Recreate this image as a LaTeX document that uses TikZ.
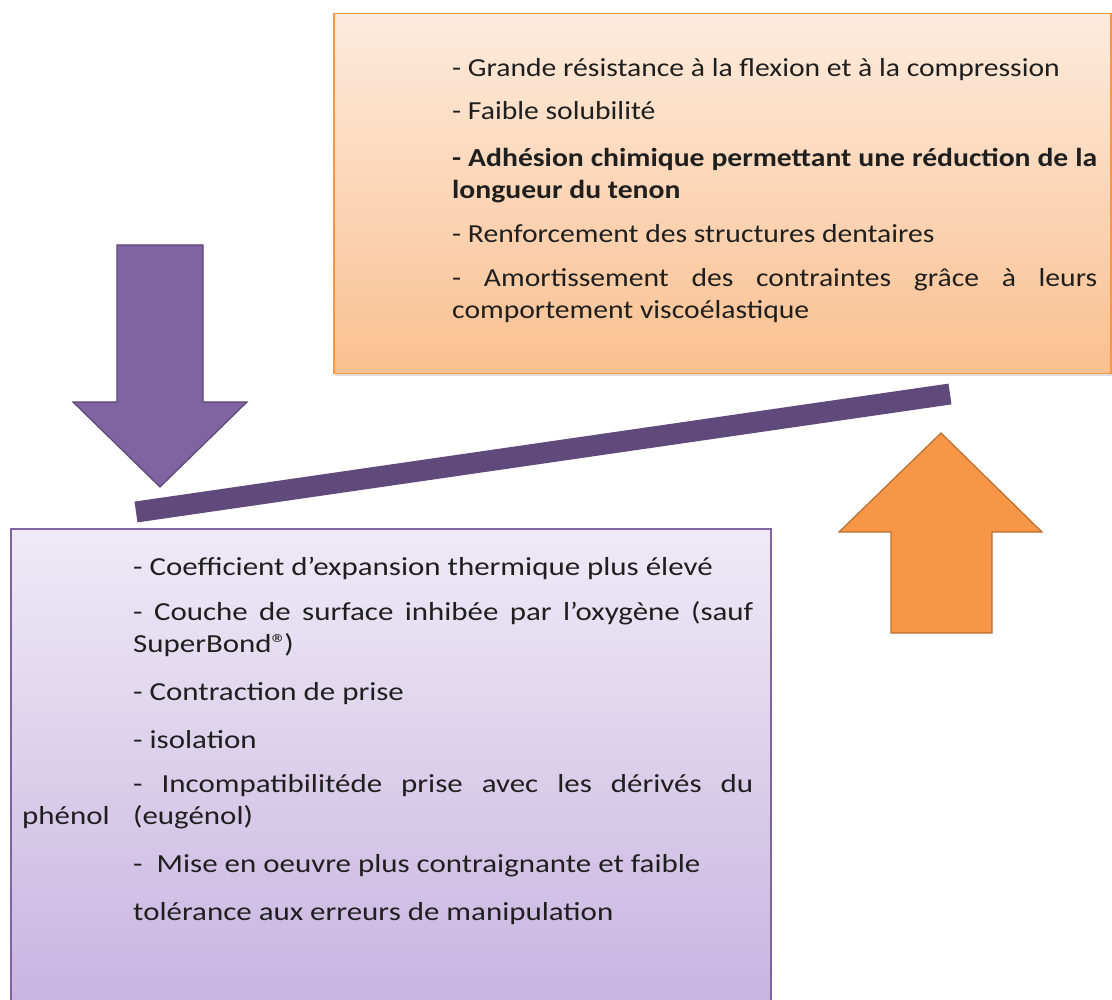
\documentclass[tikz,border=0pt]{standalone}
\usepackage{fontspec}
\setmainfont{Carlito}[FakeStretch=1.14]
\newfontfamily\consfont{Carlito}[FakeStretch=1.19]
\usepackage{xcolor}
\definecolor{orline}{HTML}{F79646}
\definecolor{ortop}{HTML}{FDEBDD}
\definecolor{orbot}{HTML}{FAC090}
\definecolor{ordark}{HTML}{B86E30}
\definecolor{puline}{HTML}{8064A2}
\definecolor{putop}{HTML}{EFEAF6}
\definecolor{pubot}{HTML}{C6B3E0}
\definecolor{pudark}{HTML}{5C4776}
\definecolor{leverpu}{HTML}{604A7B}
\usepackage{tikz}
\usetikzlibrary{positioning, shadows}
\newcommand{\justline}[2]{\makebox[#1][s]{#2}}

\begin{document}
\begin{tikzpicture}[
  x=1pt, y=-1pt,
  panel/.style={rectangle, anchor=north west, inner sep=0pt, line width=1.5pt},
  line/.style={anchor=base west, inner sep=0pt, text=black!88,
               font=\fontsize{26}{32}\selectfont},
  bline/.style={line, font=\fontsize{26}{32}\selectfont\bfseries},
  pline/.style={line, font=\consfont\fontsize{26}{32}\selectfont},
  downarrow/.style={draw=pudark, fill=puline, line width=1.2pt, line join=miter},
  uparrow/.style={draw=ordark, fill=orline, line width=1.2pt, line join=miter}
]
  \useasboundingbox (0,0) rectangle (1112,1000);

  % panels
  \node[panel, draw=orline, top color=ortop, bottom color=orbot,
        drop shadow={shadow xshift=1.5pt, shadow yshift=-2.5pt, opacity=0.25},
        minimum width=777pt, minimum height=360pt] (pros) at (333,13) {};
  \node[panel, draw=puline, top color=putop, bottom color=pubot,
        drop shadow={shadow xshift=1.5pt, shadow yshift=-1.5pt, opacity=0.2},
        minimum width=760pt, minimum height=490pt] (cons) at (10,528) {};

  % arrows
  \draw[downarrow] (117,245) -- (203,245) -- (203,402) -- (247,402) -- (160,487)
                   -- (73,402) -- (117,402) -- cycle;
  \draw[uparrow] (891,633) -- (891,532) -- (839,532) -- (941,433) -- (1042,532)
                 -- (992,532) -- (992,633) -- cycle;

  % lever
  \coordinate (leverL) at (136,512);
  \coordinate (leverR) at (950,394);
  \draw[leverpu, line width=21pt] (leverL) -- (leverR);

  % advantages
  \node[line]  (o1) at (452,77)  {- Grande résistance à la flexion et à la compression};
  \node[line]  (o2) at (452,120) {- Faible solubilité};
  \node[bline] (o3) at (452,167) {\justline{645pt}{- Adhésion chimique permettant une réduction de la}};
  \node[bline] (o4) at (452,199) {longueur du tenon};
  \node[line]  (o5) at (452,243) {- Renforcement des structures dentaires};
  \node[line]  (o6) at (452,287) {\justline{645pt}{- Amortissement des contraintes grâce à leurs}};
  \node[line]  (o7) at (452,319) {comportement viscoélastique};

  % drawbacks
  \node[pline] (p1) at (133,575) {- Coefficient d’expansion thermique plus élevé};
  \node[pline] (p2) at (133,620) {\justline{620pt}{- Couche de surface inhibée par l’oxygène (sauf}};
  \node[pline] (p3) at (133,652) {SuperBond®\kern-3pt)};
  \node[pline] (p4) at (133,700) {- Contraction de prise};
  \node[pline] (p5) at (133,748) {- isolation};
  \node[pline] (p6) at (133,792) {\justline{620pt}{- Incompatibilitéde prise avec les dérivés du}};
  \node[pline] (p7a) at (22,824) {phénol};
  \node[pline] (p7) at (133,824) {(eugénol)};
  \node[pline] (p8) at (133,872) {-\ \ Mise en oeuvre plus contraignante et faible};
  \node[pline] (p9) at (133,920) {tolérance aux erreurs de manipulation};
\end{tikzpicture}
\end{document}
